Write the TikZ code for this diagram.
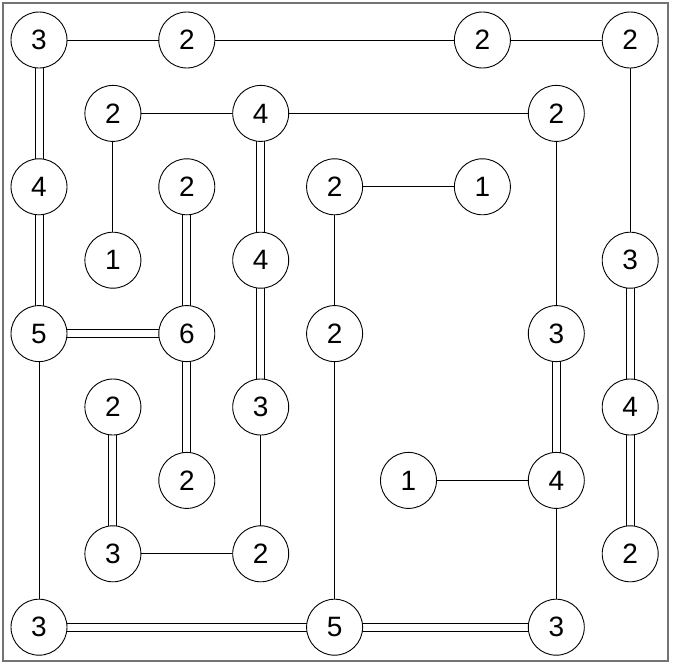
\documentclass[tikz,border=0pt]{standalone}
\usepackage{fontspec}
\setmainfont{Liberation Sans}
\usetikzlibrary{backgrounds}
\begin{document}
\begin{tikzpicture}[x=1pt,y=-1pt,
  isl/.style={circle,draw=black,line width=0.9pt,fill=white,minimum size=56pt,inner sep=0pt,font=\fontsize{28}{28}\selectfont},
  br/.style={draw=black,line width=0.9pt}]
\useasboundingbox (0,0) rectangle (672,672);
\draw[draw=black!55,line width=1.5pt] (3,3) rectangle (668,661);
\foreach \n/\i/\j/\v in {
 a/0/0/3, b/2/0/2, c/6/0/2, d/8/0/2,
 e/1/1/2, f/3/1/4, g/7/1/2,
 h/0/2/4, k/2/2/2, l/4/2/2, m/6/2/1,
 n/1/3/1, o/3/3/4, p/8/3/3,
 q/0/4/5, r/2/4/6, s/4/4/2, t/7/4/3,
 u/1/5/2, v/3/5/3, w/8/5/4,
 x/2/6/2, y/5/6/1, z/7/6/4,
 aa/1/7/3, ab/3/7/2, ac/8/7/2,
 ad/0/8/3, ae/4/8/5, af/7/8/3}
 \node[isl] (\n) at ({39+73.9*\i},{40+73.4*\j}) {\v};
\begin{pgfonlayer}{background}
% single bridges
\foreach \s/\t in {a/b, b/c, c/d, q/ad, e/f, f/g, e/n, v/ab, aa/ab,
 l/m, l/s, s/ae, g/t, y/z, z/af, d/p}
 \draw[br] (\s.center)--(\t.center);
% double bridges, vertical
\foreach \s/\t in {a/h, h/q, k/r, f/o, o/v, u/aa, r/x, t/z, p/w, w/ac}
 \draw[br] ([xshift=-4pt]\s.center)--([xshift=-4pt]\t.center)
           ([xshift=4pt]\s.center)--([xshift=4pt]\t.center);
% double bridges, horizontal
\foreach \s/\t in {q/r, ad/ae, ae/af}
 \draw[br] ([yshift=-4pt]\s.center)--([yshift=-4pt]\t.center)
           ([yshift=4pt]\s.center)--([yshift=4pt]\t.center);
\end{pgfonlayer}
\end{tikzpicture}
\end{document}
